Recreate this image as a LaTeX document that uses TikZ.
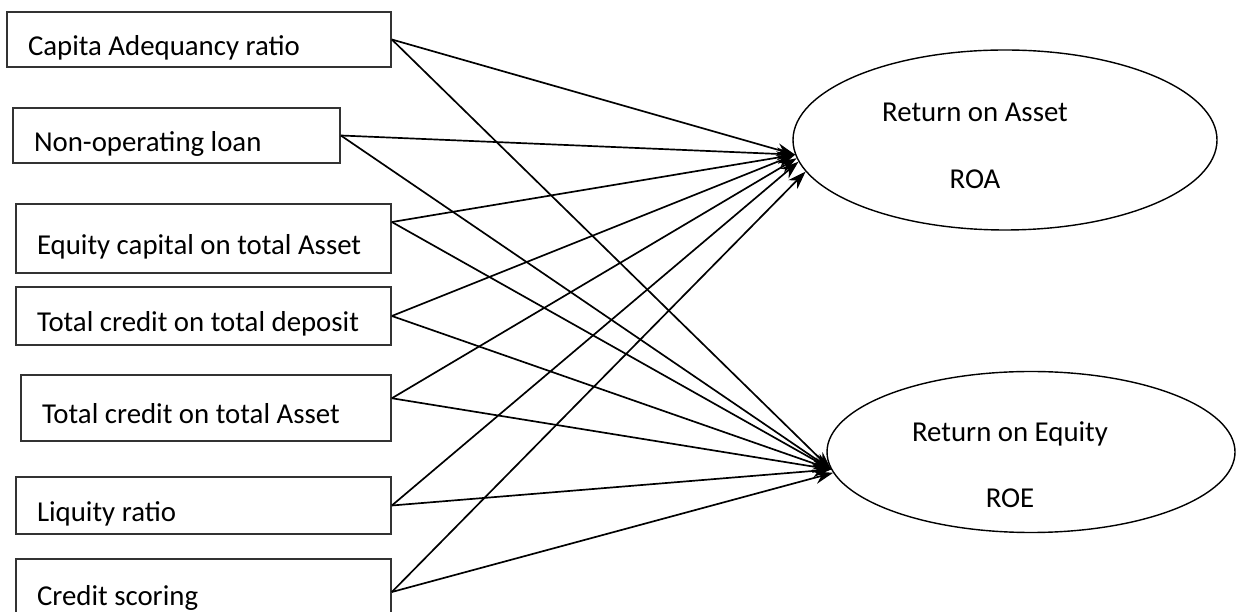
\documentclass[tikz,border=0pt]{standalone}
\usepackage{fontspec}
\setmainfont{Carlito}
\usetikzlibrary{arrows.meta,shapes.geometric}
\tikzstyle{factor} = [draw=black!80, line width=1.2pt, minimum height=1.375cm,
  inner xsep=0.3cm, inner ysep=0pt, text height=0.8cm, text depth=0pt,
  align=flush left, execute at begin node={\hspace*{0.225cm}}]
\tikzstyle{outcome} = [draw, ellipse, line width=1pt, inner sep=0pt]
\tikzstyle{diredge} = [line width=1.2pt, -{Stealth[length=13pt,width=9pt]}]

\begin{document}
\begin{tikzpicture}[every node/.style={font=\fontsize{20.5}{24}\selectfont}]
    \useasboundingbox (0,0) rectangle (30.9,15.275);
    % independent variables
    \node[factor,text width=9cm] (car) at (4.975,14.2875) {Capita Adequancy ratio};
    \node[factor,text width=7.575cm] (npl) at (4.4125,11.8875) {Non-operating loan};
    \node[factor,text width=8.775cm,minimum height=1.725cm] (eqta) at (5.0875,9.3125)
        {Equity capital on total Asset};
    \node[factor,text width=8.775cm,minimum height=1.45cm] (tctd) at (5.0875,7.375)
        {Total credit on total deposit};
    \node[factor,text width=8.65cm,minimum height=1.65cm] (tcta) at (5.15,5.075)
        {Total credit on total Asset};
    \node[factor,text width=8.775cm,minimum height=1.425cm] (liq) at (5.0875,2.6375)
        {Liquity ratio};
    \node[factor,text width=8.775cm,minimum height=1.65cm,text height=0.7cm] (cs)
        at (5.0875,0.475) {Credit scoring};
    % dependent variables
    \node[outcome,minimum width=10.6cm,minimum height=4.5cm,
        label={[name=roatxt,align=center,font=\fontsize{20.5}{48}\selectfont,
        xshift=-0.75cm,yshift=-0.15cm]center:{Return on Asset\\ROA}}]
        (roa) at (25.125,11.775) {};
    \node[outcome,minimum width=10.2cm,minimum height=4.025cm,
        label={[name=roetxt,align=center,font=\fontsize{20.5}{47}\selectfont,
        xshift=-0.525cm,yshift=-0.325cm]center:{Return on Equity\\ROE}}]
        (roe) at (25.775,3.975) {};
    % paths
    \draw[diredge] (car.east) -- (roa.184);
    \draw[diredge] (car.east) -- (roe.185);
    \draw[diredge] (npl.east) -- (roa.184);
    \draw[diredge] (npl.east) -- (roe.185);
    \draw[diredge] (eqta.5) -- (roa.184);
    \draw[diredge] (eqta.5) -- (roe.185);
    \draw[diredge] (tctd.east) -- (roa.184);
    \draw[diredge] (tctd.east) -- (roe.185);
    \draw[diredge] (tcta.3) -- (roa.185);
    \draw[diredge] (tcta.3) -- (roe.185);
    \draw[diredge] (liq.east) -- (roa.186);
    \draw[diredge] (liq.east) -- (roe.185);
    \draw[diredge] (cs.east) -- (roa.189);
    \draw[diredge] (cs.east) -- (roe.186);
\end{tikzpicture}
\end{document}
